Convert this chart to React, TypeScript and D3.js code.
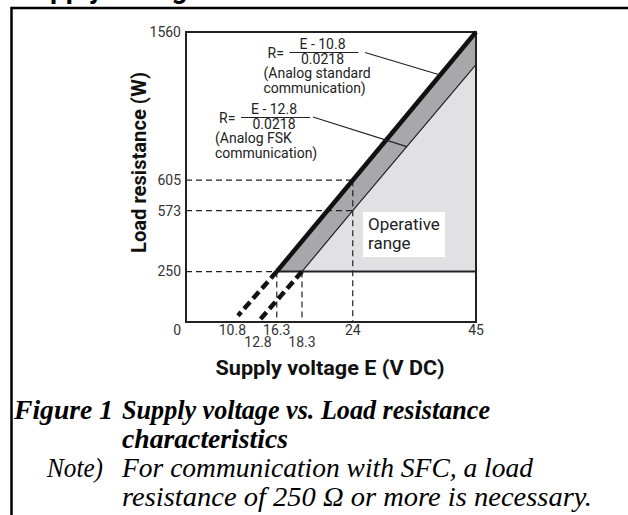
import * as d3 from 'd3';

const W = 628;
const H = 515;
const plot = { left: 186, top: 32, width: 290, height: 290 };

// schematic axes: tick values and where they sit along each axis (fraction of plot)
const eBreaks = [0, 10.8, 12.8, 16.3, 18.3, 24, 45];
const eBreakFrac = [0, 0.16, 0.248, 0.313, 0.4, 0.575, 1];
const rBreaks = [0, 250, 573, 605, 1560];
const rBreakFrac = [0, 0.174, 0.384, 0.489, 1];

const xTicks = [10.8, 12.8, 16.3, 18.3, 24, 45];
const xTickRow = [0, 1, 0, 1, 0, 0];
const yTicks = [250, 573, 605, 1560];

// characteristic lines
const stdE = [16.3, 24, 45];
const stdR = [250, 605, 1560];
const fskE = [18.3, 24, 45];
const fskR = [250, 573, 1350];
const stdZero = [10.8, 0];
const fskZero = [12.8, 0];
const minLoad = 250;

// dashed guides
const hGuides = [[250, 16.3], [573, 24], [605, 24]];
const vGuides = [[16.3, 250], [18.3, 250], [24, 605]];

const x = d3
  .scaleLinear()
  .domain(eBreaks)
  .range(eBreakFrac.map((f) => plot.left + f * plot.width));
const y = d3
  .scaleLinear()
  .domain(rBreaks)
  .range(rBreakFrac.map((f) => plot.top + plot.height * (1 - f)));

const pts = (es, rs) => es.map((e, i) => [x(e), y(rs[i])]);
const line = d3.line();

// point on a drawn polyline at voltage e (interpolated in pixel space)
const onLine = (p, e) => {
  const px = x(e);
  for (let i = 0; i < p.length - 1; i++) {
    if (px >= p[i][0] && px <= p[i + 1][0]) {
      const t = (px - p[i][0]) / (p[i + 1][0] - p[i][0]);
      return [px, p[i][1] + t * (p[i + 1][1] - p[i][1])];
    }
  }
  return p[p.length - 1];
};

const tickFont = { fontFamily: 'Roboto', fontSize: 14, fill: '#333' };
const noteFont = { fontFamily: 'Roboto', fontSize: 14, fill: '#222' };
const capFont = { fontFamily: '"Liberation Serif", serif', fontSize: 27, fill: '#000' };

const Formula = ({ x0, y0, num, den, sub1, sub2 }) => (
  <g transform={`translate(${x0},${y0})`} style={noteFont as any}>
    <text x={-22} y={5.6}>R=</text>
    <text x={33} y={-3.7} textAnchor="middle">{num}</text>
    <line x1={0} x2={69} y1={0} y2={0} stroke="#222" strokeWidth={1} />
    <text x={33} y={11.8} textAnchor="middle">{den}</text>
    <text x={-26} y={25.8}>{sub1}</text>
    <text x={-26} y={40.3}>{sub2}</text>
  </g>
);

// caption lines: [text, x, baseline, width, bold]
const caption = [
  ['Figure 1', 14, 419, 99, true],
  ['Supply voltage vs. Load resistance', 122, 419, 368, true],
  ['characteristics', 122, 448, 166, true],
  ['Note)', 47, 477, 56, false],
  ['For communication with SFC, a load', 122, 477, 411, false],
  ['resistance of 250 Ω or more is necessary.', 122, 506, 470, false],
];

export default function App() {
  const std = pts(stdE, stdR);
  const fsk = pts(fskE, fskR);
  const band = [...std, ...fsk.slice().reverse()];
  const light = [...fsk, [x(45), y(minLoad)]];
  const ext = (from, zero, t) => {
    const a = [x(from[0]), y(from[1])];
    const b = [x(zero[0]), y(zero[1])];
    return [a, d3.interpolate(a, b)(t)];
  };
  const stdExt = ext([stdE[0], stdR[0]], stdZero, 0.875);
  const fskExt = ext([fskE[0], fskR[0]], fskZero, 0.94);
  const lead1 = onLine(std, 38.9);
  const lead2 = onLine(fsk, 33.2);

  return (
    <svg
      width={W}
      height={H}
      style={{ position: 'absolute', left: 0, top: 0, background: '#fff' }}
    >
      {/* cut off heading + page frame */}
      <text x={17} y={-2} fontFamily="Roboto" fontWeight={700} fontSize={28} fill="#000">
        Supply voltage
      </text>
      <path d={`M${W},8 H11.5 V${H}`} fill="none" stroke="#000" strokeWidth={2.5} />

      {/* ranges */}
      <path d={line(light) + 'Z'} fill="#e1e1e3" />
      <path d={line(band) + 'Z'} fill="#a8a8aa" />

      {/* dashed guides */}
      <g stroke="#222" strokeWidth={1.2} strokeDasharray="6 4" fill="none">
        {hGuides.map(([r, e]) => (
          <line key={'h' + r} x1={x(0)} x2={x(e)} y1={y(r)} y2={y(r)} />
        ))}
        {vGuides.map(([e, r]) => (
          <line key={'v' + e} x1={x(e)} x2={x(e)} y1={y(r)} y2={y(0)} />
        ))}
      </g>

      {/* plot box */}
      <rect
        x={plot.left}
        y={plot.top}
        width={plot.width}
        height={plot.height}
        fill="none"
        stroke="#222"
        strokeWidth={2}
      />
      <line x1={x(stdE[0])} x2={x(45)} y1={y(minLoad)} y2={y(minLoad)} stroke="#222" strokeWidth={2} />

      {/* characteristic lines */}
      <path d={line(fsk)} fill="none" stroke="#222" strokeWidth={1.2} />
      <path d={line(std)} fill="none" stroke="#111" strokeWidth={4.5} />
      <g stroke="#111" strokeWidth={4.5} strokeDasharray="9 4.5" fill="none">
        <path d={line(stdExt)} />
        <path d={line(fskExt)} />
      </g>

      {/* annotations */}
      <Formula x0={289.5} y0={52.5} num="E - 10.8" den="0.0218" sub1="(Analog standard" sub2="communication)" />
      <line x1={365} y1={52.5} x2={lead1[0]} y2={lead1[1]} stroke="#222" strokeWidth={1.2} />
      <Formula x0={241} y0={117.5} num="E - 12.8" den="0.0218" sub1="(Analog FSK" sub2="communication)" />
      <line x1={313} y1={117} x2={lead2[0]} y2={lead2[1]} stroke="#222" strokeWidth={1.2} />

      <rect x={363} y={212} width={82} height={45} fill="#fff" />
      <g style={{ fontFamily: 'Roboto', fontSize: 17, fill: '#222' } as any}>
        <text x={368} y={230}>Operative</text>
        <text x={368} y={249}>range</text>
      </g>

      {/* ticks */}
      <g style={tickFont as any}>
        {yTicks.map((r) => (
          <text key={r} x={plot.left - 5} y={y(r)} dy="0.35em" textAnchor="end">
            {r}
          </text>
        ))}
        <text x={plot.left - 5} y={335} textAnchor="end">0</text>
        {xTicks.map((e, i) => (
          <text key={e} x={x(e)} y={335 + xTickRow[i] * 11.7} textAnchor="middle">
            {e}
          </text>
        ))}
      </g>

      {/* axis titles */}
      <text
        x={330}
        y={375}
        textAnchor="middle"
        fontFamily="Roboto"
        fontWeight={700}
        fontSize={20}
        fill="#111"
        textLength={229}
        lengthAdjust="spacingAndGlyphs"
      >
        Supply voltage E (V DC)
      </text>
      <text
        transform="translate(146,162.5) rotate(-90)"
        textAnchor="middle"
        fontFamily="Roboto"
        fontWeight={700}
        fontSize={20}
        fill="#111"
        textLength={181}
        lengthAdjust="spacingAndGlyphs"
      >
        Load resistance (W)
      </text>

      {/* caption */}
      <g style={capFont as any}>
        {caption.map(([t, cx, cy, w, bold]) => (
          <text
            key={t as string}
            x={cx as number}
            y={cy as number}
            fontWeight={bold ? 700 : 400}
            fontStyle="italic"
            textLength={w as number}
            lengthAdjust="spacingAndGlyphs"
          >
            {t}
          </text>
        ))}
      </g>
    </svg>
  );
}
